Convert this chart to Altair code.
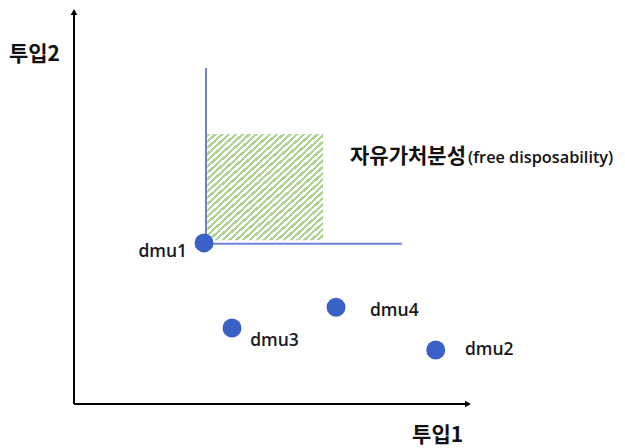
import altair as alt
import pandas as pd

# DMU points (투입1, 투입2)
dmu_names = ["dmu1", "dmu2", "dmu3", "dmu4"]
input1 = [3.30, 9.18, 4.01, 6.65]
input2 = [4.11, 1.38, 1.94, 2.47]
# label anchors (data units, text baseline)
label_x = [2.87, 9.92, 4.47, 7.51]
label_y = [3.75, 1.25, 1.48, 2.25]
label_align = ["right", "left", "left", "left"]

# free-disposability lines from dmu1
vline_top = 8.57
hline_end = 8.32
# hatched region
region_x = [3.38, 6.32]
region_y = [4.18, 6.89]

# axes
x_axis_end = 10.0
y_axis_end = 10.0

XD = [-1.675, 13.78]
YD = [-1.122, 10.102]
xs = alt.Scale(domain=XD, nice=False, zero=False)
ys = alt.Scale(domain=YD, nice=False, zero=False)

pts = pd.DataFrame({"name": dmu_names, "x": input1, "y": input2,
                    "lx": label_x, "ly": label_y, "al": label_align})

X = lambda f: alt.X(f, scale=xs, axis=None)
Y = lambda f: alt.Y(f, scale=ys, axis=None)

# axis lines
axes_df = pd.DataFrame({"x": [0, 0], "y": [0, 0],
                        "x2": [x_axis_end, 0], "y2": [0, y_axis_end]})
axes = alt.Chart(axes_df).mark_rule(color="black", strokeWidth=2).encode(
    x=X("x:Q"), y=Y("y:Q"), x2="x2:Q", y2="y2:Q")
arrow_x = alt.Chart(pd.DataFrame({"x": [x_axis_end], "y": [0]})).mark_point(
    shape="triangle-right", filled=True, color="black", size=45, opacity=1).encode(
    x=X("x:Q"), y=Y("y:Q"))
arrow_y = alt.Chart(pd.DataFrame({"x": [0], "y": [y_axis_end]})).mark_point(
    shape="triangle-up", filled=True, color="black", size=45, opacity=1).encode(
    x=X("x:Q"), y=Y("y:Q"))

# hatched rect via gradient stripes
N = 34
stops = []
for i in range(N):
    a = i / N
    b = (i + 0.5) / N
    c = (i + 1) / N
    stops += [alt.GradientStop(offset=a, color="#add492"),
              alt.GradientStop(offset=b, color="#add492"),
              alt.GradientStop(offset=b, color="#ffffff"),
              alt.GradientStop(offset=c, color="#ffffff")]
grad = alt.LinearGradient(gradient="linear", stops=stops, x1=0, y1=0, x2=1, y2=1)
region = alt.Chart(pd.DataFrame({"x": [region_x[0]], "x2": [region_x[1]],
                                 "y": [region_y[0]], "y2": [region_y[1]]})).mark_rect(
    fill=grad).encode(x=X("x:Q"), x2="x2:Q", y=Y("y:Q"), y2="y2:Q")

# dominance lines
lines_df = pd.DataFrame({"x": [input1[0] + 0.05, input1[0] + 0.05],
                         "y": [input2[0] - 0.02, input2[0] - 0.02],
                         "x2": [input1[0] + 0.05, hline_end],
                         "y2": [vline_top, input2[0] - 0.02]})
lines = alt.Chart(lines_df).mark_rule(color="#6f83d6", strokeWidth=2).encode(
    x=X("x:Q"), y=Y("y:Q"), x2="x2:Q", y2="y2:Q")

points = alt.Chart(pts).mark_circle(size=360, color="#3a62c6", opacity=1).encode(
    x=X("x:Q"), y=Y("y:Q"))

labels_r = alt.Chart(pts[pts.al == "right"]).mark_text(
    align="right", baseline="alphabetic", font="Open Sans", fontWeight=600,
    fontSize=17.5, color="#1a1a1a").encode(x=X("lx:Q"), y=Y("ly:Q"), text="name:N")
labels_l = alt.Chart(pts[pts.al == "left"]).mark_text(
    align="left", baseline="alphabetic", font="Open Sans", fontWeight=600,
    fontSize=17.5, color="#1a1a1a").encode(x=X("lx:Q"), y=Y("ly:Q"), text="name:N")

title_ko = alt.Chart(pd.DataFrame({"x": [7.005], "y": [6.14], "t": ["자유가처분성"]})).mark_text(
    align="left", baseline="alphabetic", font="Noto Sans CJK KR", fontWeight="bold",
    fontSize=21, color="#111111").encode(x=X("x:Q"), y=Y("y:Q"), text="t:N")
title_en = alt.Chart(pd.DataFrame({"x": [10.0], "y": [6.14], "t": ["(free disposability)"]})).mark_text(
    align="left", baseline="alphabetic", font="Open Sans", fontWeight=600,
    fontSize=16.3, color="#111111").encode(x=X("x:Q"), y=Y("y:Q"), text="t:N")

axis_titles = alt.Chart(pd.DataFrame({"x": [-1.65, 8.58], "y": [8.75, -0.98],
                                      "t": ["투입2", "투입1"]})).mark_text(
    align="left", baseline="alphabetic", font="Noto Sans CJK KR", fontWeight="bold",
    fontSize=21, color="#111111").encode(x=X("x:Q"), y=Y("y:Q"), text="t:N")

chart = alt.layer(axes, arrow_x, arrow_y, region, lines, points, labels_r, labels_l,
                  title_ko, title_en, axis_titles).properties(
    width=609, height=440, padding=0,
    autosize=alt.AutoSizeParams(type="none"),
    background="white").configure_view(stroke=None)

chart.save("out.html", embed_options={"renderer": "svg", "actions": False})
